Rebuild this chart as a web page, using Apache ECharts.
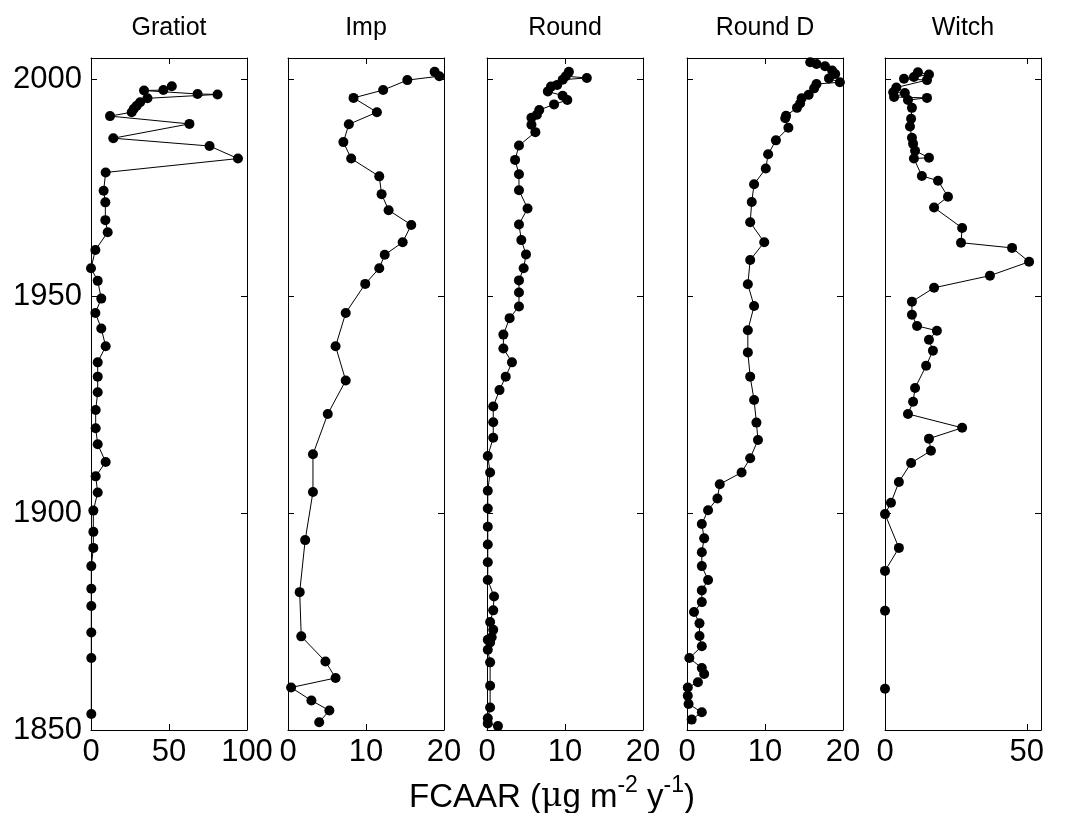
<!DOCTYPE html>
<html>
<head>
<meta charset="utf-8">
<script src="https://cdn.jsdelivr.net/npm/echarts@6/dist/echarts.min.js"></script>
<style>
  html, body { margin: 0; padding: 0; background: #ffffff; }
  #chart { width: 1065px; height: 813px; }
</style>
</head>
<body>
<div id="chart"></div>
<script>
// Core sites: fly-ash (FCAAR) accumulation rate against year
const panelTitles = ['Gratiot', 'Imp', 'Round', 'Round D', 'Witch'];
const yearTicks = [1850, 1900, 1950, 2000];

const gratiotYear = [1998.5, 1997.6, 1997.5, 1996.7, 1996.6, 1995.7, 1994.8, 1994.0, 1993.3, 1992.5,
  1991.6, 1989.8, 1986.5, 1984.7, 1981.8, 1978.6, 1974.4, 1971.7, 1967.6, 1964.8,
  1960.7, 1956.5, 1953.6, 1949.5, 1946.2, 1942.6, 1938.5, 1934.8, 1931.5, 1927.9,
  1923.8, 1919.6, 1915.9, 1911.8, 1908.5, 1904.8, 1900.6, 1895.7, 1892.0, 1887.8,
  1882.6, 1878.6, 1872.5, 1866.6, 1853.7];
const gratiotFcaar = [51.8, 46.4, 34.0, 68.3, 81.1, 36.2, 31.5, 29.3, 27.5, 26.1,
  12.2, 63.1, 14.3, 76.0, 94.2, 9.4, 8.1, 9.2, 9.2, 10.7,
  2.8, 0.0, 4.3, 6.6, 2.8, 6.6, 9.4, 4.3, 4.3, 4.3,
  3.0, 3.0, 4.3, 9.4, 3.0, 4.3, 1.5, 1.5, 1.5, 0.2,
  0.2, 0.2, 0.2, 0.2, 0.2];

const impYear = [2001.8, 2000.8, 1999.9, 1997.6, 1995.8, 1992.5, 1989.7, 1985.6, 1981.8, 1977.7,
  1973.6, 1969.9, 1966.5, 1962.5, 1959.6, 1956.5, 1952.9, 1946.2, 1938.5, 1930.6,
  1922.9, 1913.6, 1904.9, 1893.8, 1881.8, 1871.6, 1865.8, 1862.0, 1859.8, 1856.8,
  1854.5, 1851.8];
const impFcaar = [18.8, 19.4, 15.3, 12.2, 8.4, 11.4, 7.8, 7.1, 8.1, 11.7,
  12.0, 12.9, 15.8, 14.7, 12.4, 11.7, 9.9, 7.4, 6.1, 7.4,
  5.1, 3.2, 3.2, 2.2, 1.5, 1.7, 4.8, 6.1, 0.4, 3.0,
  5.3, 4.0];

const roundYear = [2001.8, 2000.8, 2000.4, 2000.0, 1998.8, 1998.4, 1997.3, 1996.3, 1995.3, 1994.3,
  1993.0, 1991.9, 1991.2, 1989.6, 1987.9, 1984.8, 1981.5, 1978.2, 1974.5, 1970.3,
  1966.6, 1963.0, 1959.7, 1956.5, 1953.7, 1950.9, 1947.7, 1945.0, 1941.2, 1938.0,
  1934.8, 1931.5, 1928.4, 1924.6, 1921.0, 1917.4, 1913.2, 1909.4, 1905.2, 1901.1,
  1896.9, 1892.8, 1888.7, 1884.6, 1880.8, 1877.6, 1874.9, 1873.1, 1871.4, 1870.8,
  1870.2, 1868.5, 1865.6, 1860.2, 1855.2, 1852.7, 1851.5, 1850.9];
const roundFcaar = [10.5, 10.1, 12.8, 9.7, 9.0, 8.2, 7.8, 9.7, 10.3, 8.6,
  6.7, 6.4, 5.7, 5.7, 6.2, 4.1, 3.6, 4.1, 4.1, 5.2,
  4.1, 4.4, 5.0, 4.7, 4.1, 4.1, 4.1, 2.9, 2.1, 2.1,
  3.2, 2.4, 1.6, 0.8, 0.8, 0.8, 0.1, 0.4, 0.1, 0.1,
  0.1, 0.1, 0.1, 0.1, 0.9, 0.8, 0.4, 0.8, 0.6, 0.1,
  0.4, 0.1, 0.4, 0.4, 0.4, 0.1, 0.1, 1.4];

const roundDYear = [2004.0, 2003.6, 2003.1, 2002.1, 2001.3, 2000.3, 1999.4, 1999.0, 1998.0, 1996.5,
  1995.7, 1994.5, 1993.5, 1991.7, 1991.1, 1988.9, 1986.0, 1982.8, 1979.5, 1975.9,
  1971.8, 1967.1, 1962.5, 1958.4, 1952.8, 1947.8, 1942.2, 1937.1, 1931.5, 1926.1,
  1920.9, 1916.9, 1912.7, 1909.4, 1906.7, 1903.4, 1900.7, 1897.5, 1894.2, 1891.0,
  1887.8, 1884.6, 1882.2, 1879.5, 1877.2, 1874.6, 1871.7, 1869.3, 1866.6, 1864.3,
  1862.9, 1861.0, 1859.8, 1857.9, 1856.0, 1854.1, 1852.4];
const roundDFcaar = [15.8, 16.6, 17.7, 18.6, 19.0, 18.2, 19.6, 16.6, 16.3, 15.6,
  14.7, 14.5, 14.1, 12.7, 12.6, 13.0, 11.4, 10.4, 10.1, 8.6,
  8.3, 8.1, 9.9, 8.1, 7.8, 8.6, 7.8, 7.8, 8.1, 8.6,
  8.9, 9.1, 8.1, 7.0, 4.2, 3.9, 2.7, 1.9, 2.2, 1.9,
  1.9, 2.7, 1.9, 1.9, 0.9, 1.6, 1.6, 1.9, 0.3, 1.9,
  2.2, 1.4, 0.1, 0.1, 0.2, 1.9, 0.6];

// '-' marks a missing sample: the line breaks there
const witchYear = [2001.7, 2001.2, 2000.6, 2000.2, 1999.9, 1998.2, 1997.1, 1996.9, 1996.0, 1995.8,
  1995.3, 1993.5, 1991.0, 1989.2, 1986.6, 1985.2, 1983.6, 1982.0, 1981.8, 1977.8,
  1976.7, 1973.0, 1970.5, 1965.8, 1962.4, 1961.2, 1958.0, 1954.8, 1952.0, 1948.8,
  1945.8, 1943.2, 1942.1, 1940.0, 1937.5, 1934.0, 1928.9, 1925.7, 1922.9, 1919.7,
  1917.2, 1914.4, 1911.6, 1907.2, 1902.4, 1899.8, 1892.0, 1886.7, '-', 1877.5,
  '-', 1859.5];
const witchFcaar = [11.6, 15.5, 10.2, 6.7, 14.8, 4.0, 2.9, 7.0, 3.2, 14.8,
  8.1, 9.5, 9.2, 8.8, 9.5, 9.9, 10.6, 15.5, 10.2, 13.0,
  18.7, 22.2, 17.3, 27.2, 26.8, 44.8, 50.8, 37.0, 17.3, 9.5,
  9.5, 11.3, 18.3, 15.5, 16.9, 14.5, 10.6, 9.9, 8.1, 27.2,
  15.5, 16.2, 9.2, 4.9, 2.1, 0.0, 4.9, 0.0, '-', 0.0,
  '-', 0.0];

const panelYears = [gratiotYear, impYear, roundYear, roundDYear, witchYear];
const panelValues = [gratiotFcaar, impFcaar, roundFcaar, roundDFcaar, witchFcaar];
const xMax = [100, 20, 20, 20, 55];
const xStep = [50, 10, 10, 10, 50];

const FONT = 'Liberation Sans, Arial, sans-serif';
const panelLeft = [91, 288, 487, 687, 885];
const panelWidth = 156;
const panelTop = 58;
const panelHeight = 672;

const grids = [], xAxes = [], yAxes = [], series = [], titles = [];

const tickStyle = { show: true, inside: true, length: 6, lineStyle: { color: '#000', width: 1 } };
const lineStyleAxis = { show: true, onZero: false, lineStyle: { color: '#000', width: 1 } };

panelTitles.forEach((name, i) => {
  grids.push({ left: panelLeft[i], top: panelTop, width: panelWidth, height: panelHeight });

  // bottom axis with labels, top axis as the frame edge
  xAxes.push({
    type: 'value', gridIndex: i, position: 'bottom', min: 0, max: xMax[i], interval: xStep[i],
    axisLine: lineStyleAxis, axisTick: tickStyle, splitLine: { show: false },
    axisLabel: { show: true, color: '#000', fontSize: 31, fontFamily: FONT, margin: 7,
      showMaxLabel: xMax[i] % xStep[i] === 0 }
  });
  xAxes.push({
    type: 'value', gridIndex: i, position: 'top', min: 0, max: xMax[i], interval: xStep[i],
    axisLine: lineStyleAxis, axisTick: tickStyle, splitLine: { show: false },
    axisLabel: { show: false }
  });

  yAxes.push({
    type: 'value', gridIndex: i, position: 'left', min: 1850, max: 2005, interval: 50,
    axisLine: lineStyleAxis, axisTick: tickStyle, splitLine: { show: false },
    axisLabel: { show: i === 0, color: '#000', fontSize: 31, fontFamily: FONT, margin: 9,
      showMaxLabel: false,
      formatter: v => (yearTicks.indexOf(v) >= 0 ? String(v) : '') }
  });
  yAxes.push({
    type: 'value', gridIndex: i, position: 'right', min: 1850, max: 2005, interval: 50,
    axisLine: lineStyleAxis, axisTick: tickStyle, splitLine: { show: false },
    axisLabel: { show: false }
  });

  const yrs = panelYears[i], vals = panelValues[i];
  const data = yrs.map((y, k) => [vals[k], y]);
  series.push({
    type: 'line', name: name, xAxisIndex: 2 * i, yAxisIndex: 2 * i,
    data: data, connectNulls: false,
    symbol: 'circle', symbolSize: 10, showAllSymbol: true,
    itemStyle: { color: '#000' },
    lineStyle: { color: '#000', width: 1 },
    emphasis: { disabled: true },
    animation: false, clip: true, z: 3
  });

  titles.push({
    type: 'text', x: panelLeft[i] + panelWidth / 2, y: 28,
    style: { text: name, fill: '#000', font: '25px ' + FONT,
      align: 'center', verticalAlign: 'middle', textAlign: 'center', textVerticalAlign: 'middle' }
  });
});

const chart = echarts.init(document.getElementById('chart'), null, { renderer: 'canvas' });
chart.setOption({
  backgroundColor: '#fff',
  animation: false,
  grid: grids,
  xAxis: xAxes,
  yAxis: yAxes,
  series: series,
  graphic: titles.concat([{
    type: 'text', x: 552, y: 794,
    style: {
      text: '{a|FCAAR (}{g|μ}{a|g m}{s|-2}{a| y}{s|-1}{a|)}',
      fill: '#000',
      align: 'center', verticalAlign: 'middle', textAlign: 'center', textVerticalAlign: 'middle',
      rich: {
        a: { fontSize: 33, fontFamily: FONT, fill: '#000', verticalAlign: 'bottom', lineHeight: 40 },
        g: { fontSize: 33, fontFamily: 'DejaVu Serif, serif', fill: '#000', verticalAlign: 'bottom', lineHeight: 40 },
        s: { fontSize: 23, fontFamily: FONT, fill: '#000', verticalAlign: 'top', lineHeight: 40, padding: [0, 0, 16, 0] }
      }
    }
  }])
});
</script>
</body>
</html>
